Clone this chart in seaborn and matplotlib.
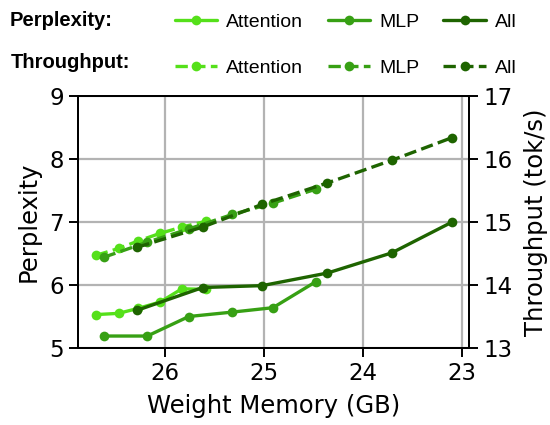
import matplotlib
matplotlib.use("Agg")
import matplotlib.pyplot as plt
import seaborn as sns
import pandas as pd
from matplotlib.lines import Line2D

# ---- data ----
attn_mem = [26.70, 26.47, 26.27, 26.05, 25.83, 25.59]
attn_ppl = [5.53, 5.55, 5.63, 5.73, 5.94, 5.93]
attn_tps = [14.47, 14.58, 14.70, 14.82, 14.92, 15.01]

mlp_mem = [26.62, 26.18, 25.76, 25.32, 24.91, 24.48]
mlp_ppl = [5.19, 5.19, 5.50, 5.57, 5.64, 6.05]
mlp_tps = [14.44, 14.68, 14.89, 15.12, 15.30, 15.52]

all_mem = [26.28, 25.62, 25.02, 24.36, 23.71, 23.10]
all_ppl = [5.60, 5.96, 5.99, 6.19, 6.51, 7.00]
all_tps = [14.60, 14.92, 15.28, 15.62, 15.98, 16.34]

series_names = ["Attention", "MLP", "All"]
colors = ["#55E01A", "#37A014", "#1E6400"]
x_ticks = [26, 25, 24, 23]
ppl_ticks = [5, 6, 7, 8, 9]
tps_ticks = [13, 14, 15, 16, 17]

sns.set_theme(style="white", context="talk")
plt.rcParams["font.family"] = ["DejaVu Sans"]
plt.rcParams["text.color"] = "black"

fig = plt.figure(figsize=(5.5, 4.25), dpi=100)
ax = fig.add_axes([78/550, 1-348/425, (469-78)/550, (348-96)/425])
ax2 = ax.twinx()

mems = [attn_mem, mlp_mem, all_mem]
ppls = [attn_ppl, mlp_ppl, all_ppl]
tpss = [attn_tps, mlp_tps, all_tps]

lw = 2.4
ms = 7
for name, c, m, p, t in zip(series_names, colors, mems, ppls, tpss):
    df = pd.DataFrame({"mem": m, "ppl": p, "tps": t})
    sns.lineplot(data=df, x="mem", y="ppl", ax=ax, color=c, marker="o",
                 markersize=ms, markeredgewidth=0, linewidth=lw, sort=False,
                 estimator=None, legend=False)
    sns.lineplot(data=df, x="mem", y="tps", ax=ax2, color=c, marker="o",
                 markersize=ms, markeredgewidth=0, linewidth=lw, sort=False,
                 estimator=None, legend=False, linestyle="--")

ax.set_xlim(26.88, 22.93)
ax.set_ylim(5, 9)
ax2.set_ylim(13, 17)
ax.set_xticks(x_ticks)
ax.set_yticks(ppl_ticks)
ax2.set_yticks(tps_ticks)
ax.set_xticklabels([str(v) for v in x_ticks])

ax.grid(True, color="#b3b3b3", linewidth=1.6)
ax2.grid(False)
ax.set_axisbelow(True)

for a in (ax, ax2):
    for s in a.spines.values():
        s.set_color("black")
        s.set_linewidth(1.4)
    a.tick_params(axis="both", which="major", length=6.7, width=1.4,
                  color="black", labelsize=16.5, labelcolor="black", direction="out")
ax.tick_params(axis="x", bottom=True)
ax.tick_params(axis="y", left=True)
ax2.tick_params(axis="y", right=True)

ax.set_xlabel("Weight Memory (GB)", fontsize=17.5, color="black", labelpad=6)
ax.set_ylabel("Perplexity", fontsize=17.5, color="black", labelpad=6)
ax2.set_ylabel("Throughput (tok/s)", fontsize=17.5, color="black", labelpad=8)

# ---- legend ----
handles = []
labels = []
for name, c in zip(series_names, colors):
    handles.append(Line2D([], [], color=c, marker="o", markersize=ms,
                          markeredgewidth=0, linewidth=lw))
    labels.append(name)
    handles.append(Line2D([], [], color=c, marker="o", markersize=ms,
                          markeredgewidth=0, linewidth=lw, linestyle="--"))
    labels.append(name)

leg = fig.legend(handles, labels, ncol=3, loc="upper left",
                 bbox_to_anchor=(163/550, 1.0 - 2/425), frameon=False,
                 prop={"family": "Liberation Sans", "size": 14},
                 handlelength=2.2, handletextpad=0.45, columnspacing=1.25,
                 labelspacing=1.45, borderaxespad=0.2)
for txt in leg.get_texts():
    txt.set_color("black")

fig.text(10/550, 1-20/425, "Perplexity:", fontsize=14.5, fontweight="bold",
         family="Liberation Sans", va="center", ha="left", color="black")
fig.text(11/550, 1-62/425, "Throughput:", fontsize=14.5, fontweight="bold",
         family="Liberation Sans", va="center", ha="left", color="black")

fig.savefig("out.png", dpi=100)
